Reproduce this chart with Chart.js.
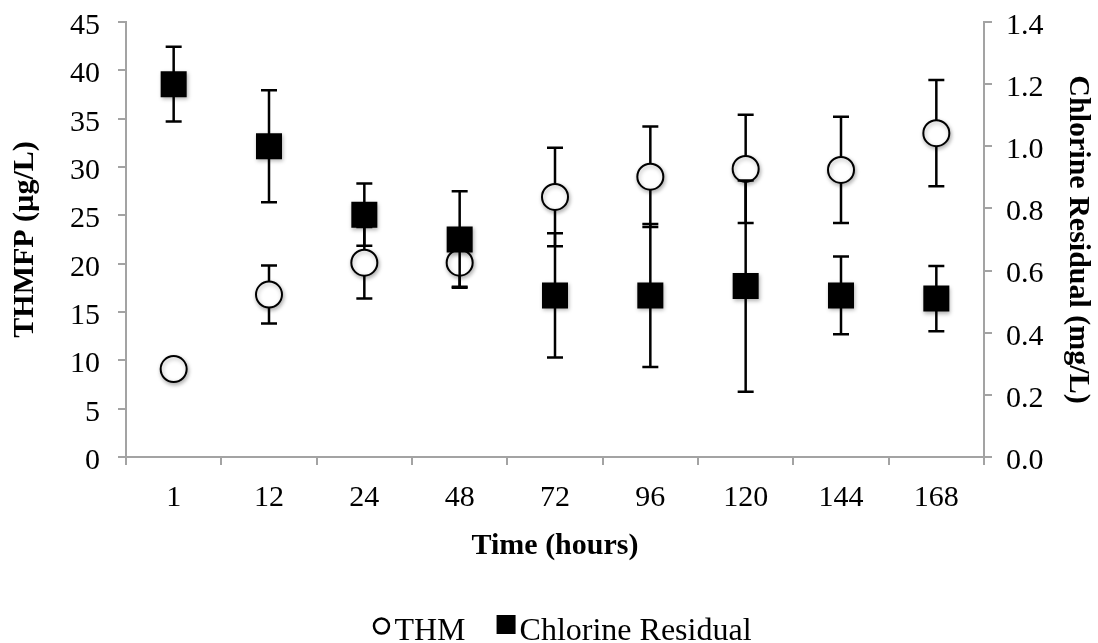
<!DOCTYPE html>
<html>
<head>
<meta charset="utf-8">
<script src="https://cdn.jsdelivr.net/npm/chart.js@4.4.0/dist/chart.umd.min.js"></script>
<style>
  body { margin: 0; background: #fff; }
  #chart { display: block; }
</style>
</head>
<body>
<canvas id="chart" width="1098" height="643"></canvas>
<script>
// sampling times (hours)
const times = ['1', '12', '24', '48', '72', '96', '120', '144', '168'];
// THM formation potential, ug/L, with +/- error
const thm = [9.1, 16.8, 20.1, 20.1, 26.9, 29.0, 29.8, 29.7, 33.5];
const thmErr = [0, 3.0, 3.7, 2.5, 5.1, 5.2, 5.6, 5.5, 5.5];
// chlorine residual, mg/L, with +/- error
const chlorine = [1.20, 1.00, 0.78, 0.70, 0.52, 0.52, 0.55, 0.52, 0.51];
const chlorineErr = [0.12, 0.18, 0.10, 0.155, 0.20, 0.23, 0.34, 0.125, 0.105];

const serif = '"Liberation Serif", "Times New Roman", serif';
const axisGrey = '#a3a3a3';

// error bars go down right before each dataset's markers,
// then the markers get a light drop shadow
const errorBars = {
    id: 'errorBars',
    beforeDatasetDraw(chart, args) {
        const ds = chart.data.datasets[args.index];
        const meta = args.meta;
        const yScale = chart.scales[meta.yAxisID];
        const ctx = chart.ctx;
        ctx.save();
        ctx.strokeStyle = '#000';
        ctx.lineWidth = 2.5;
        meta.data.forEach(function (pt, i) {
            const err = ds.errors[i];
            if (!err) { return; }
            const v = ds.data[i];
            const top = yScale.getPixelForValue(v + err);
            const bot = yScale.getPixelForValue(v - err);
            ctx.beginPath();
            ctx.moveTo(pt.x, top); ctx.lineTo(pt.x, bot);
            ctx.moveTo(pt.x - 8, top); ctx.lineTo(pt.x + 8, top);
            ctx.moveTo(pt.x - 8, bot); ctx.lineTo(pt.x + 8, bot);
            ctx.stroke();
        });
        ctx.restore();
        ctx.save();
        ctx.shadowColor = 'rgba(0,0,0,0.3)';
        ctx.shadowBlur = 4;
        ctx.shadowOffsetX = 1;
        ctx.shadowOffsetY = 2;
    },
    afterDatasetDraw(chart) {
        chart.ctx.restore();
    }
};

// legend row under the axis title: small marker hugging its label
const legendRow = {
    id: 'legendRow',
    afterDraw(chart) {
        const ctx = chart.ctx;
        const area = chart.chartArea;
        ctx.save();
        ctx.font = '32px ' + serif;
        ctx.fillStyle = '#000';
        ctx.strokeStyle = '#000';
        ctx.lineWidth = 2.5;
        const names = chart.data.datasets.map(d => d.label);
        const w0 = ctx.measureText(names[0]).width;
        const w1 = ctx.measureText(names[1]).width;
        const total = 18 + 4 + w0 + 31 + 19 + 4 + w1;
        let x = (area.left + area.right) / 2 + 7 - total / 2;
        const base = chart.height - 3;
        ctx.beginPath();
        ctx.arc(x + 9, base - 14, 7.5, 0, Math.PI * 2);
        ctx.stroke();
        x += 22;
        ctx.fillText(names[0], x, base);
        x += w0 + 31;
        ctx.fillRect(x, base - 25, 19, 19);
        x += 23;
        ctx.fillText(names[1], x, base);
        ctx.restore();
    }
};

// keep the plot box fixed: no extra room for half tick labels
function noEdgePad(s) {
    s.paddingTop = 0;
    s.paddingBottom = 0;
}

const ch = document.getElementById('chart');

const thmChart = new Chart(ch, {
    type: 'line',
    data: {
        labels: times,
        datasets: [{
            label: 'THM',
            data: thm,
            errors: thmErr,
            yAxisID: 'y',
            showLine: false,
            pointStyle: 'circle',
            pointRadius: 13,
            pointHoverRadius: 13,
            pointBackgroundColor: '#fff',
            pointBorderColor: '#000',
            pointBorderWidth: 2,
            order: 2
        }, {
            label: 'Chlorine Residual',
            data: chlorine,
            errors: chlorineErr,
            yAxisID: 'y1',
            showLine: false,
            pointStyle: 'rect',
            pointRadius: 18.4,
            pointHoverRadius: 18.4,
            pointBackgroundColor: '#000',
            pointBorderColor: '#000',
            pointBorderWidth: 0,
            order: 1
        }]
    },
    options: {
        responsive: false,
        animation: false,
        events: [],
        layout: { padding: { top: 22, left: 0, right: 0, bottom: 0 } },
        plugins: {
            legend: { display: false },
            tooltip: { enabled: false }
        },
        scales: {
            x: {
                offset: true,
                grid: { offset: true, drawOnChartArea: false, color: axisGrey, lineWidth: 2, tickLength: 8 },
                border: { color: axisGrey, width: 2 },
                ticks: { color: '#000', font: { family: serif, size: 30 }, padding: 15 },
                title: {
                    display: true,
                    text: 'Time (hours)',
                    color: '#000',
                    font: { family: serif, size: 30, weight: 'bold' },
                    padding: { top: 0, bottom: 79 }
                },
                afterFit(s) { s.height = 186; s.paddingLeft = 0; s.paddingRight = 0; }
            },
            y: {
                position: 'left',
                min: 0,
                max: 45,
                grid: { drawOnChartArea: false, color: axisGrey, lineWidth: 2, tickLength: 8 },
                border: { color: axisGrey, width: 2 },
                ticks: { stepSize: 5, color: '#000', font: { family: serif, size: 30 }, padding: 18, labelOffset: 4 },
                title: {
                    display: true,
                    text: 'THMFP (µg/L)',
                    color: '#000',
                    font: { family: serif, size: 30, weight: 'bold' },
                    padding: { top: 7, bottom: 0 }
                },
                afterFit(s) { s.width = 126; noEdgePad(s); }
            },
            y1: {
                position: 'right',
                min: 0,
                max: 1.4,
                grid: { drawOnChartArea: false, color: axisGrey, lineWidth: 2, tickLength: 8 },
                border: { color: axisGrey, width: 2 },
                ticks: {
                    stepSize: 0.2,
                    color: '#000',
                    font: { family: serif, size: 30 },
                    padding: 14,
                    labelOffset: 4,
                    callback: function (v) { return Number(v).toFixed(1); }
                },
                title: {
                    display: true,
                    text: 'Chlorine Residual (mg/L)',
                    color: '#000',
                    font: { family: serif, size: 30, weight: 'bold' },
                    padding: { top: 2, bottom: 0 }
                },
                afterFit(s) { s.width = 114; noEdgePad(s); }
            }
        }
    },
    plugins: [errorBars, legendRow]
});
</script>
</body>
</html>
